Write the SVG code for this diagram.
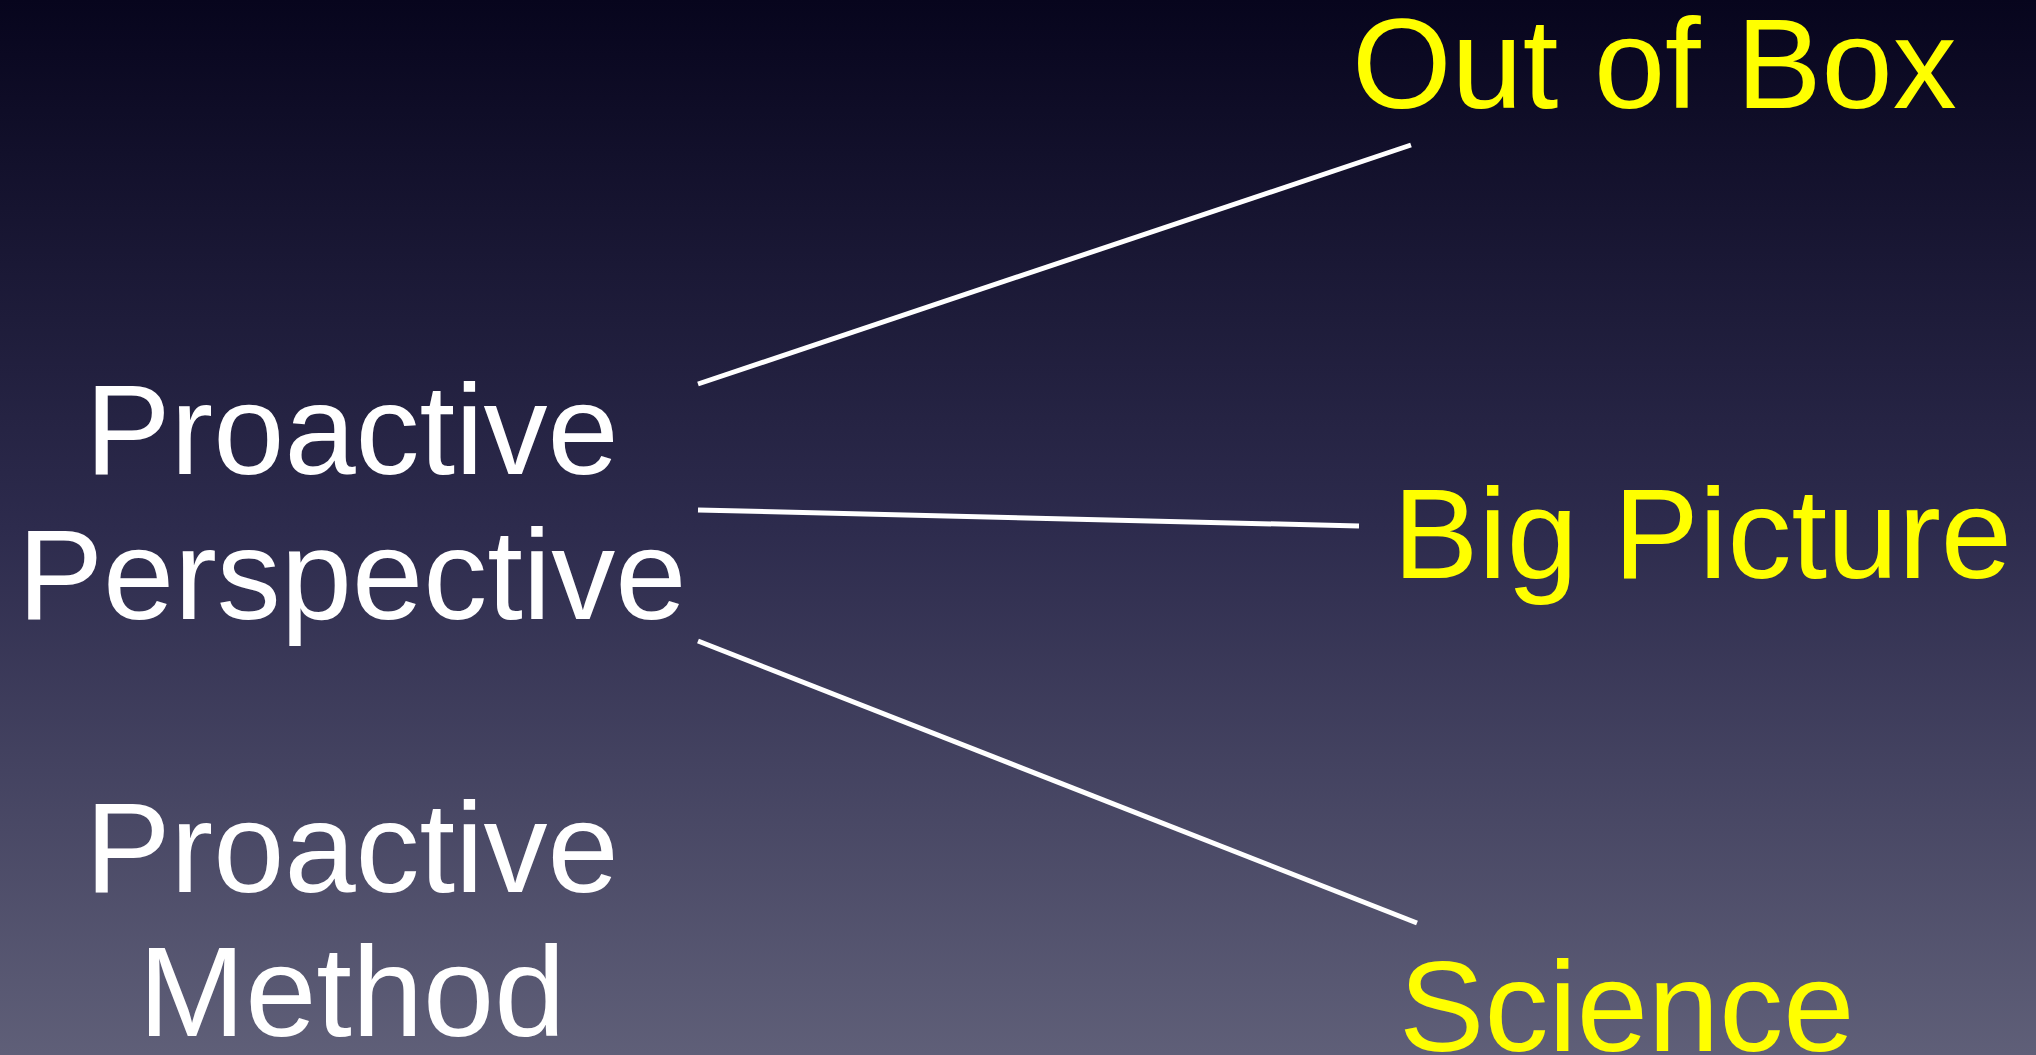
<svg xmlns="http://www.w3.org/2000/svg" width="2036" height="1055" viewBox="0 0 2036 1055">
<defs>
<linearGradient id="bg" x1="0" y1="0" x2="0" y2="1">
<stop offset="0" stop-color="#07051d"/>
<stop offset="0.5" stop-color="#2d2b4d"/>
<stop offset="1" stop-color="#5f5f78"/>
</linearGradient>
<style>
.t{font-family:"Liberation Sans",Arial,sans-serif;font-size:128px;}
.w{fill:#ffffff;text-anchor:middle;}
.y{fill:#ffff00;}
.c{stroke:#ffffff;stroke-width:5;fill:none;}
</style>
</defs>
<rect x="0" y="0" width="2036" height="1055" fill="url(#bg)"/>
<g id="node-proactive-perspective">
<text class="t w" x="352" y="474">Proactive</text>
<text class="t w" x="352" y="619">Perspective</text>
</g>
<g id="node-proactive-method">
<text class="t w" x="352" y="892">Proactive</text>
<text class="t w" x="352" y="1036">Method</text>
</g>
<g id="node-out-of-box">
<text class="t y" x="1352" y="108">Out of Box</text>
</g>
<g id="node-big-picture">
<text class="t y" x="1393" y="578">Big Picture</text>
</g>
<g id="node-science">
<text class="t y" x="1399" y="1051">Science</text>
</g>
<g id="connectors">
<line class="c" x1="698" y1="384" x2="1411" y2="145"/>
<line class="c" x1="698" y1="510" x2="1359" y2="526"/>
<line class="c" x1="698" y1="641" x2="1417" y2="923"/>
</g>
</svg>
